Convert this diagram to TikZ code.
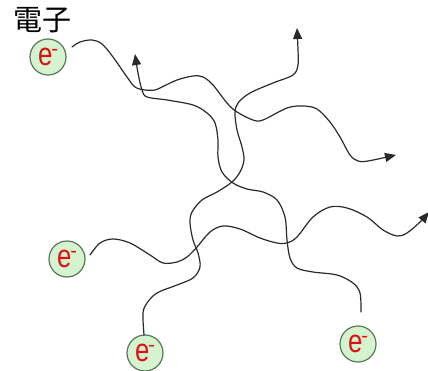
\documentclass[tikz,border=0pt]{standalone}
\usepackage{fontspec}
\setmainfont{Liberation Sans}
\newfontfamily\cjk{Noto Sans CJK JP}
\usetikzlibrary{arrows.meta,calc}
\usepackage{graphicx}
\definecolor{efill}{HTML}{D6F3D0}
\definecolor{eline}{HTML}{587858}
\definecolor{ered}{HTML}{E01010}
\definecolor{wirec}{HTML}{2A2A2A}
\tikzset{
  electron/.style={circle,draw=eline,line width=1.2pt,fill=efill,minimum size=36pt,inner sep=0pt,
    text=ered,font=\fontsize{27}{27}\selectfont},
  wire/.style={draw=wirec,line width=1.2pt,line cap=round},
  tip/.style={-{Triangle[length=11pt,width=9pt]}},
}
\newcommand{\elec}{\scalebox{0.95}[1.2]{e}\raisebox{10pt}{\fontsize{20}{20}\selectfont\kern-1pt-}}
\begin{document}
\begin{tikzpicture}[x=1pt,y=-1pt]
\useasboundingbox (0,0) rectangle (428,371);
\node[font=\cjk\fontsize{29}{29}\selectfont] (title) at (42,20) {電子};
\node[electron] (e1) at (48,57) {\elec};
\node[electron] (e2) at (67,259) {\elec};
\node[electron] (e3) at (145,353) {\elec};
\node[electron] (e4) at (358,344) {\elec};
\coordinate (tA) at (396,155);
\coordinate (tB) at (429,212);
\coordinate (tC) at (297,28);
\coordinate (tD) at (135,54);
% curve A from e1
\draw[wire,tip] plot[smooth,tension=0.55] coordinates {($(e1)+(24,-10)$) (80,42) (92,40) (102,44) (113,57) (127,77) (135,87) (145,90) (155,90) (162,87) (177,80) (193,76) (203,77) (213,85) (227,103) (237,112) (253,120) (263,120) (287,108) (303,106) (317,109) (330,122) (340,137) (350,155) (358,161) (368,161) (tA)};
% curve B from e2
\draw[wire,tip] plot[smooth,tension=0.55] coordinates {($(e2)+(23,-4)$) (100,243) (113,239) (130,243) (150,255) (163,263) (177,262) (187,257) (197,247) (210,232) (223,226) (240,229) (260,238) (277,243) (287,243) (297,237) (313,217) (330,207) (347,208) (367,217) (383,230) (397,236) (407,233) (420,222) (tB)};
% curve C from e3
\draw[wire,tip] plot[smooth,tension=0.55] coordinates {($(e3)+(-1,-18)$) (143,313) (147,303) (157,293) (177,285) (193,278) (200,267) (198,253) (193,240) (190,223) (192,212) (202,200) (217,192) (232,182) (240,172) (244,160) (242,147) (237,130) (235,113) (238,103) (250,93) (273,83) (293,75) (298,65) (298,50) (tC)};
% curve D from e4
\draw[wire,tip] plot[smooth,tension=0.55] coordinates {($(e4)+(3,-32)$) (360,293) (353,283) (337,275) (313,272) (297,268) (290,258) (287,240) (285,217) (277,200) (263,192) (247,189) (233,183) (222,172) (218,157) (218,140) (215,123) (207,113) (193,105) (167,100) (147,97) (142,90) (138,73) (tD)};
\end{tikzpicture}
\end{document}
